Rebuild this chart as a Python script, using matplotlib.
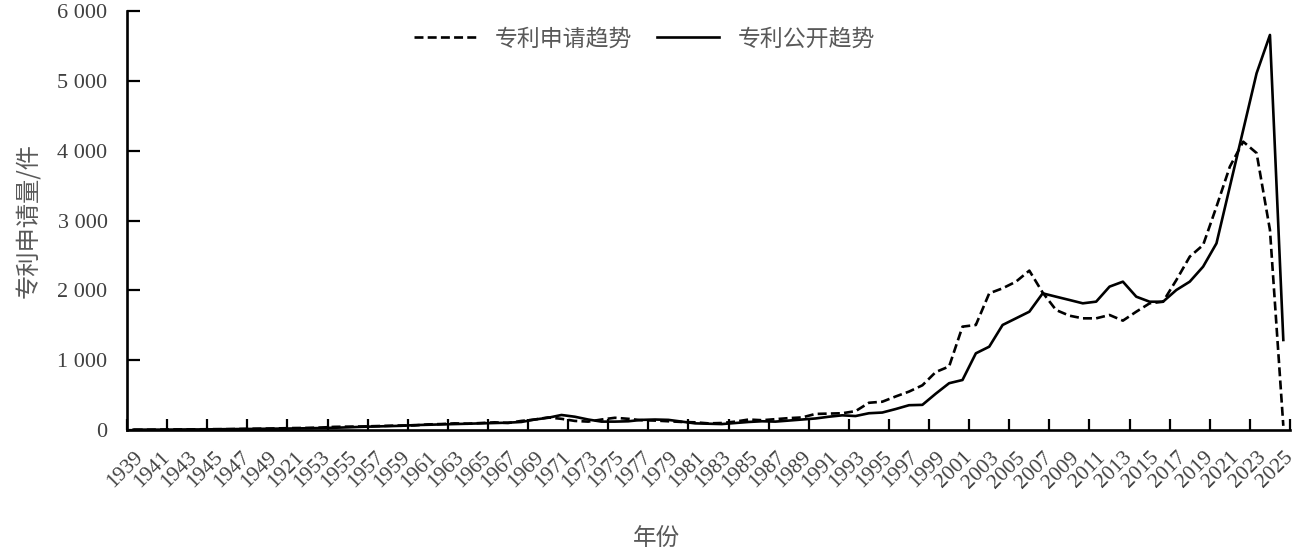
import numpy as np
import matplotlib
matplotlib.use("Agg")
import matplotlib.pyplot as plt

plt.rcParams['font.family'] = ['Liberation Serif', 'Noto Sans CJK SC']

# data: 1939-2025, one value per year
years = list(range(1939, 2026))

# 专利申请趋势 (dashed)
applied = [3, 4, 6, 8, 8, 10, 12, 12, 15, 18, 20, 24, 28, 30, 35, 45, 48, 50, 55, 60, 65,
           65, 80, 85, 95, 90, 100, 110, 100, 130, 150, 180, 160, 130, 120, 150, 175, 160, 140, 135, 125, 115,
           110, 95, 100, 120, 150, 140, 155, 170, 180, 230, 235, 240, 270, 390, 405, 480, 550, 640, 830, 910,
           1480, 1504, 1957, 2029, 2124, 2282, 1967, 1718, 1637, 1599, 1599, 1647, 1566, 1694, 1814, 1837,
           2148, 2482, 2649, 3198, 3771, 4129, 3966, 2864, 60]

# 专利公开趋势 (solid)
published = [5, 5, 5, 6, 8, 8, 10, 12, 14, 15, 18, 20, 22, 25, 28, 32, 38, 45, 50, 55, 60,
             70, 75, 80, 85, 90, 95, 100, 105, 115, 150, 175, 215, 190, 150, 120, 120, 125, 145, 150, 145, 120,
             95, 90, 85, 100, 115, 125, 120, 135, 150, 165, 190, 210, 200, 240, 250, 300, 355, 360, 520, 670,
             716, 1098, 1193, 1504, 1599, 1694, 1957, 1909, 1862, 1814, 1838, 2053, 2124, 1909, 1837, 1837,
             2005, 2124, 2339, 2673, 3485, 4296, 5108, 5657, 1289]

# x labels every second year (the source prints 1921 in place of 1951)
x_labels = [str(y) for y in years[::2]]
x_labels[6] = '1921'

y_ticks = [0, 1000, 2000, 3000, 4000, 5000, 6000]
y_tick_labels = ['0', '1 000', '2 000', '3 000', '4 000', '5 000', '6 000']

text_grey = '#404040'
label_grey = '#595959'
cjk = ['Noto Sans CJK SC', 'DejaVu Sans']

fig = plt.figure(figsize=(13.05, 5.52), dpi=100)
ax = fig.add_axes([127 / 1305, 1 - 430 / 552, (1290 - 127) / 1305, (430 - 11) / 552])

idx = np.arange(len(years))
ax.plot(idx, applied, color='black', lw=1.9, linestyle=(0, (3.4, 1.6)), label='专利申请趋势')
ax.plot(idx, published, color='black', lw=1.9, label='专利公开趋势')

ax.set_xlim(-0.5, len(years) - 0.5)
ax.set_ylim(0, 6000)

# tick marks every 3 categories, labels every 2 categories
ax.set_xticks(np.arange(-0.5, len(years), 3))
ax.set_xticklabels([])
ax.set_xticks(idx[::2], minor=True)
ax.set_xticklabels(x_labels, minor=True, rotation=45, ha='right', va='top',
                   rotation_mode='anchor', fontsize=15.5, color=text_grey)
ax.tick_params(axis='x', which='major', direction='in', length=8, width=1.6)
ax.tick_params(axis='x', which='minor', length=0, pad=13)

ax.set_yticks(y_ticks)
ax.set_yticklabels(y_tick_labels, fontsize=16, color=text_grey)
ax.tick_params(axis='y', direction='in', length=9, width=1.6, pad=14)

for side in ['top', 'right']:
    ax.spines[side].set_visible(False)
for side in ['left', 'bottom']:
    ax.spines[side].set_linewidth(1.9)

ax.set_ylabel('专利申请量/件', family=cjk, fontsize=17.5, color=label_grey)
ax.yaxis.set_label_coords(-0.073, 0.5)
fig.text(657 / 1305, 1 - 538 / 552, '年份', family=cjk, fontsize=17, color=label_grey,
         ha='center', va='center')

leg = ax.legend(loc='upper center', bbox_to_anchor=(0.445, 1.01), ncol=2, frameon=False,
                prop={'family': cjk, 'size': 16.5}, handlelength=2.7, columnspacing=1.1,
                handletextpad=0.8)
for t in leg.get_texts():
    t.set_color(label_grey)

fig.savefig('out.png', dpi=100)
